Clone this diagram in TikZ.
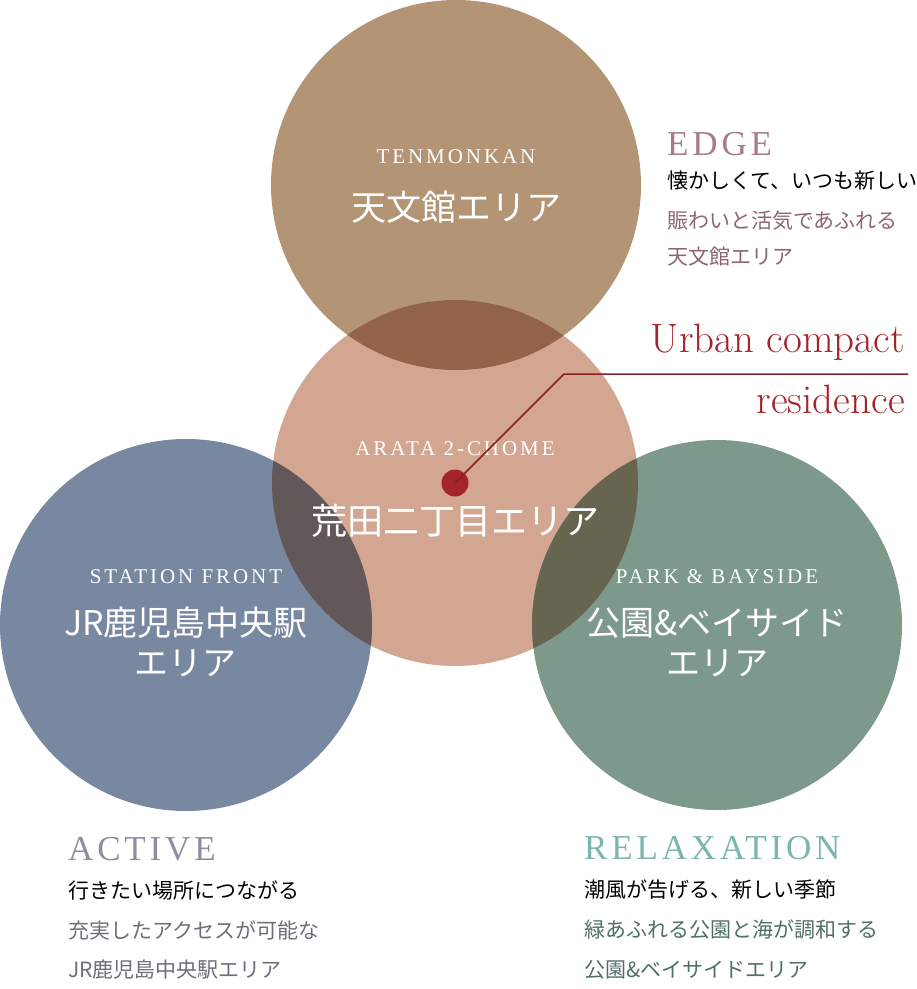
\documentclass[tikz,border=0pt]{standalone}
\usepackage{fontspec}
\newfontfamily\jp{Noto Sans CJK JP}
\newfontfamily\smallcaps[LetterSpace=14]{Liberation Serif}
\newfontfamily\headcaps[LetterSpace=11]{Liberation Serif}
\usetikzlibrary{positioning}
\definecolor{tenmon}{HTML}{B39575}
\definecolor{arata}{HTML}{D2A690}
\definecolor{station}{HTML}{7788A0}
\definecolor{bay}{HTML}{7D998B}
\definecolor{tenmonarata}{HTML}{936349}
\definecolor{stationarata}{HTML}{62585A}
\definecolor{bayarata}{HTML}{67644F}
\definecolor{urbanred}{HTML}{A3242A}
\definecolor{edgehead}{HTML}{A67B8C}
\definecolor{edgetext}{HTML}{8C6676}
\definecolor{activehead}{HTML}{8B8DA2}
\definecolor{activetext}{HTML}{6E6E78}
\definecolor{relaxhead}{HTML}{7BB5AE}
\definecolor{relaxtext}{HTML}{4F7069}
\tikzset{
  areaen/.style={text=white, inner sep=0pt, font=\smallcaps\fontsize{21}{21}\selectfont},
  areajp/.style={text=white, inner sep=0pt, align=center, font=\jp\fontsize{34}{40}\selectfont},
  headline/.style={anchor=base west, inner sep=0pt, font=\headcaps\fontsize{35}{35}\selectfont},
  copyline/.style={anchor=west, inner sep=0pt, font=\jp\fontsize{21}{21}\selectfont},
  urban/.style={anchor=base east, inner sep=0pt, text=urbanred, font=\fontsize{41}{41}\selectfont}
}

\begin{document}
\begin{tikzpicture}[x=1pt,y=-1pt]
      \useasboundingbox (0,0) rectangle (917,989);

      % circles
      \fill[tenmon] (456,185) circle (185);
      \fill[arata] (455,483) circle (183);
      \fill[station] (186,625) circle (186);
      \fill[bay] (717,625) circle (185);

      % overlaps
      \begin{scope}
        \clip (455,483) circle (183);
        \fill[tenmonarata] (456,185) circle (185);
        \fill[stationarata] (186,625) circle (186);
        \fill[bayarata] (717,625) circle (185);
      \end{scope}

      % circle labels
      \node[areaen] (tenmonen) at (456,157) {TENMONKAN};
      \node[areajp, font=\jp\fontsize{35}{40}\selectfont] (tenmonjp) at (456,207) {天文館エリア};
      \node[areaen] (arataen) at (455,449) {ARATA 2-CHOME};
      \node[areajp, font=\jp\fontsize{36}{40}\selectfont] (aratajp) at (455,521) {荒田二丁目エリア};
      \node[areaen] (stationen) at (186,577) {STATION FRONT};
      \node[areajp] (stationjp) at (186,642) {JR鹿児島中央駅\\エリア};
      \node[areaen] (bayen) at (717,577) {PARK \& BAYSIDE};
      \node[areajp] (bayjp) at (717,642) {公園\&ベイサイド\\エリア};

      % pointer
      \node[circle, fill=urbanred, inner sep=0pt, minimum size=27] (dot) at (455,483) {};
      \coordinate (kink) at (564,374);
      \coordinate (lineend) at (908,374);
      \draw[urbanred!85!black, line width=1.5] (dot.center) -- (kink) -- (lineend);
      \node[urban] (urban1) at (905,352) {Urban compact};
      \node[urban] (urban2) at (905,413) {residence};

      % EDGE
      \node[headline, text=edgehead] (edge) at (667,155) {EDGE};
      \node[copyline] (edge1) at (667,181) {懐かしくて、いつも新しい};
      \node[copyline, text=edgetext] (edge2) at (667,221) {賑わいと活気であふれる};
      \node[copyline, text=edgetext] (edge3) at (667,257) {天文館エリア};

      % ACTIVE
      \node[headline, text=activehead] (active) at (68,860) {ACTIVE};
      \node[copyline] (active1) at (68,890) {行きたい場所につながる};
      \node[copyline, text=activetext] (active2) at (68,930) {充実したアクセスが可能な};
      \node[copyline, text=activetext] (active3) at (68,970) {JR鹿児島中央駅エリア};

      % RELAXATION
      \node[headline, text=relaxhead] (relax) at (584,859) {RELAXATION};
      \node[copyline] (relax1) at (584,890) {潮風が告げる、新しい季節};
      \node[copyline, text=relaxtext] (relax2) at (584,930) {緑あふれる公園と海が調和する};
      \node[copyline, text=relaxtext] (relax3) at (584,970) {公園\&ベイサイドエリア};
    \end{tikzpicture}
\end{document}
